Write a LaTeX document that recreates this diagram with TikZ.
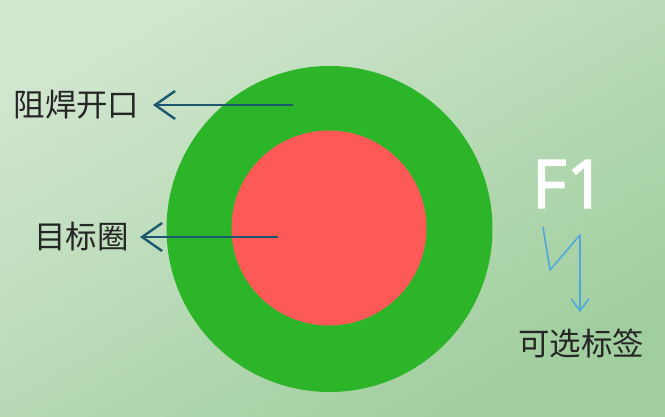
\documentclass[tikz,border=0pt]{standalone}
\usepackage{fontspec}
\newfontfamily\cjk{Noto Sans CJK SC}
\newfontfamily\latin[FakeBold=2]{Noto Sans}
\usetikzlibrary{arrows.meta}
\definecolor{bgA}{RGB}{208,230,206}
\definecolor{bgB}{RGB}{160,206,158}
\definecolor{ring}{RGB}{45,181,42}
\definecolor{core}{RGB}{253,90,87}
\definecolor{tealarrow}{RGB}{30,88,112}
\definecolor{bluearrow}{RGB}{80,168,218}
\tikzset{
  lbl/.style={font=\cjk\fontsize{31.5}{31.5}\selectfont, text=black!85, inner sep=0pt},
  pointer/.style={draw=tealarrow, line width=2.4pt, -{Straight Barb[length=20pt,width=28pt,line width=2.4pt]}},
  zig/.style={draw=bluearrow, line width=1.6pt, line join=round, -{Straight Barb[length=12pt,width=18pt,line width=1.6pt]}}
}
\begin{document}
\begin{tikzpicture}[x=1pt,y=-1pt]
  \useasboundingbox (0,0) rectangle (665,417);
  \shade[shading=axis, top color=bgA, bottom color=bgB, shading angle=30] (0,0) rectangle (665,417);
  % circles
  \node (green) [circle, fill=ring, minimum size=326pt, inner sep=0pt] at (329.5,229) {};
  \node (red) [circle, fill=core, minimum size=195pt, inner sep=0pt] at (329,228) {};
  % labels
  \node (lab1) [lbl] at (76.5,105) {阻焊开口};
  \node (lab2) [lbl] at (81.5,237) {目标圈};
  \node (lab3) [lbl] at (581,343) {可选标签};
  \node (f1) [font=\latin\fontsize{67}{67}\selectfont, text=white, inner sep=0pt] at (568.5,184) {F1};
  % pointers
  \coordinate (s1) at (293,105);
  \coordinate (s2) at (278,237);
  \draw[pointer] (s1) -- (lab1.east -| 153,0);
  \draw[pointer] (s2) -- (lab2.east -| 140,0);
  % zigzag
  \coordinate (z0) at (543,227);
  \coordinate (z1) at (550,270);
  \coordinate (z2) at (580,235);
  \draw[zig] (z0) -- (z1) -- (z2) -- (580,312);
\end{tikzpicture}
\end{document}
